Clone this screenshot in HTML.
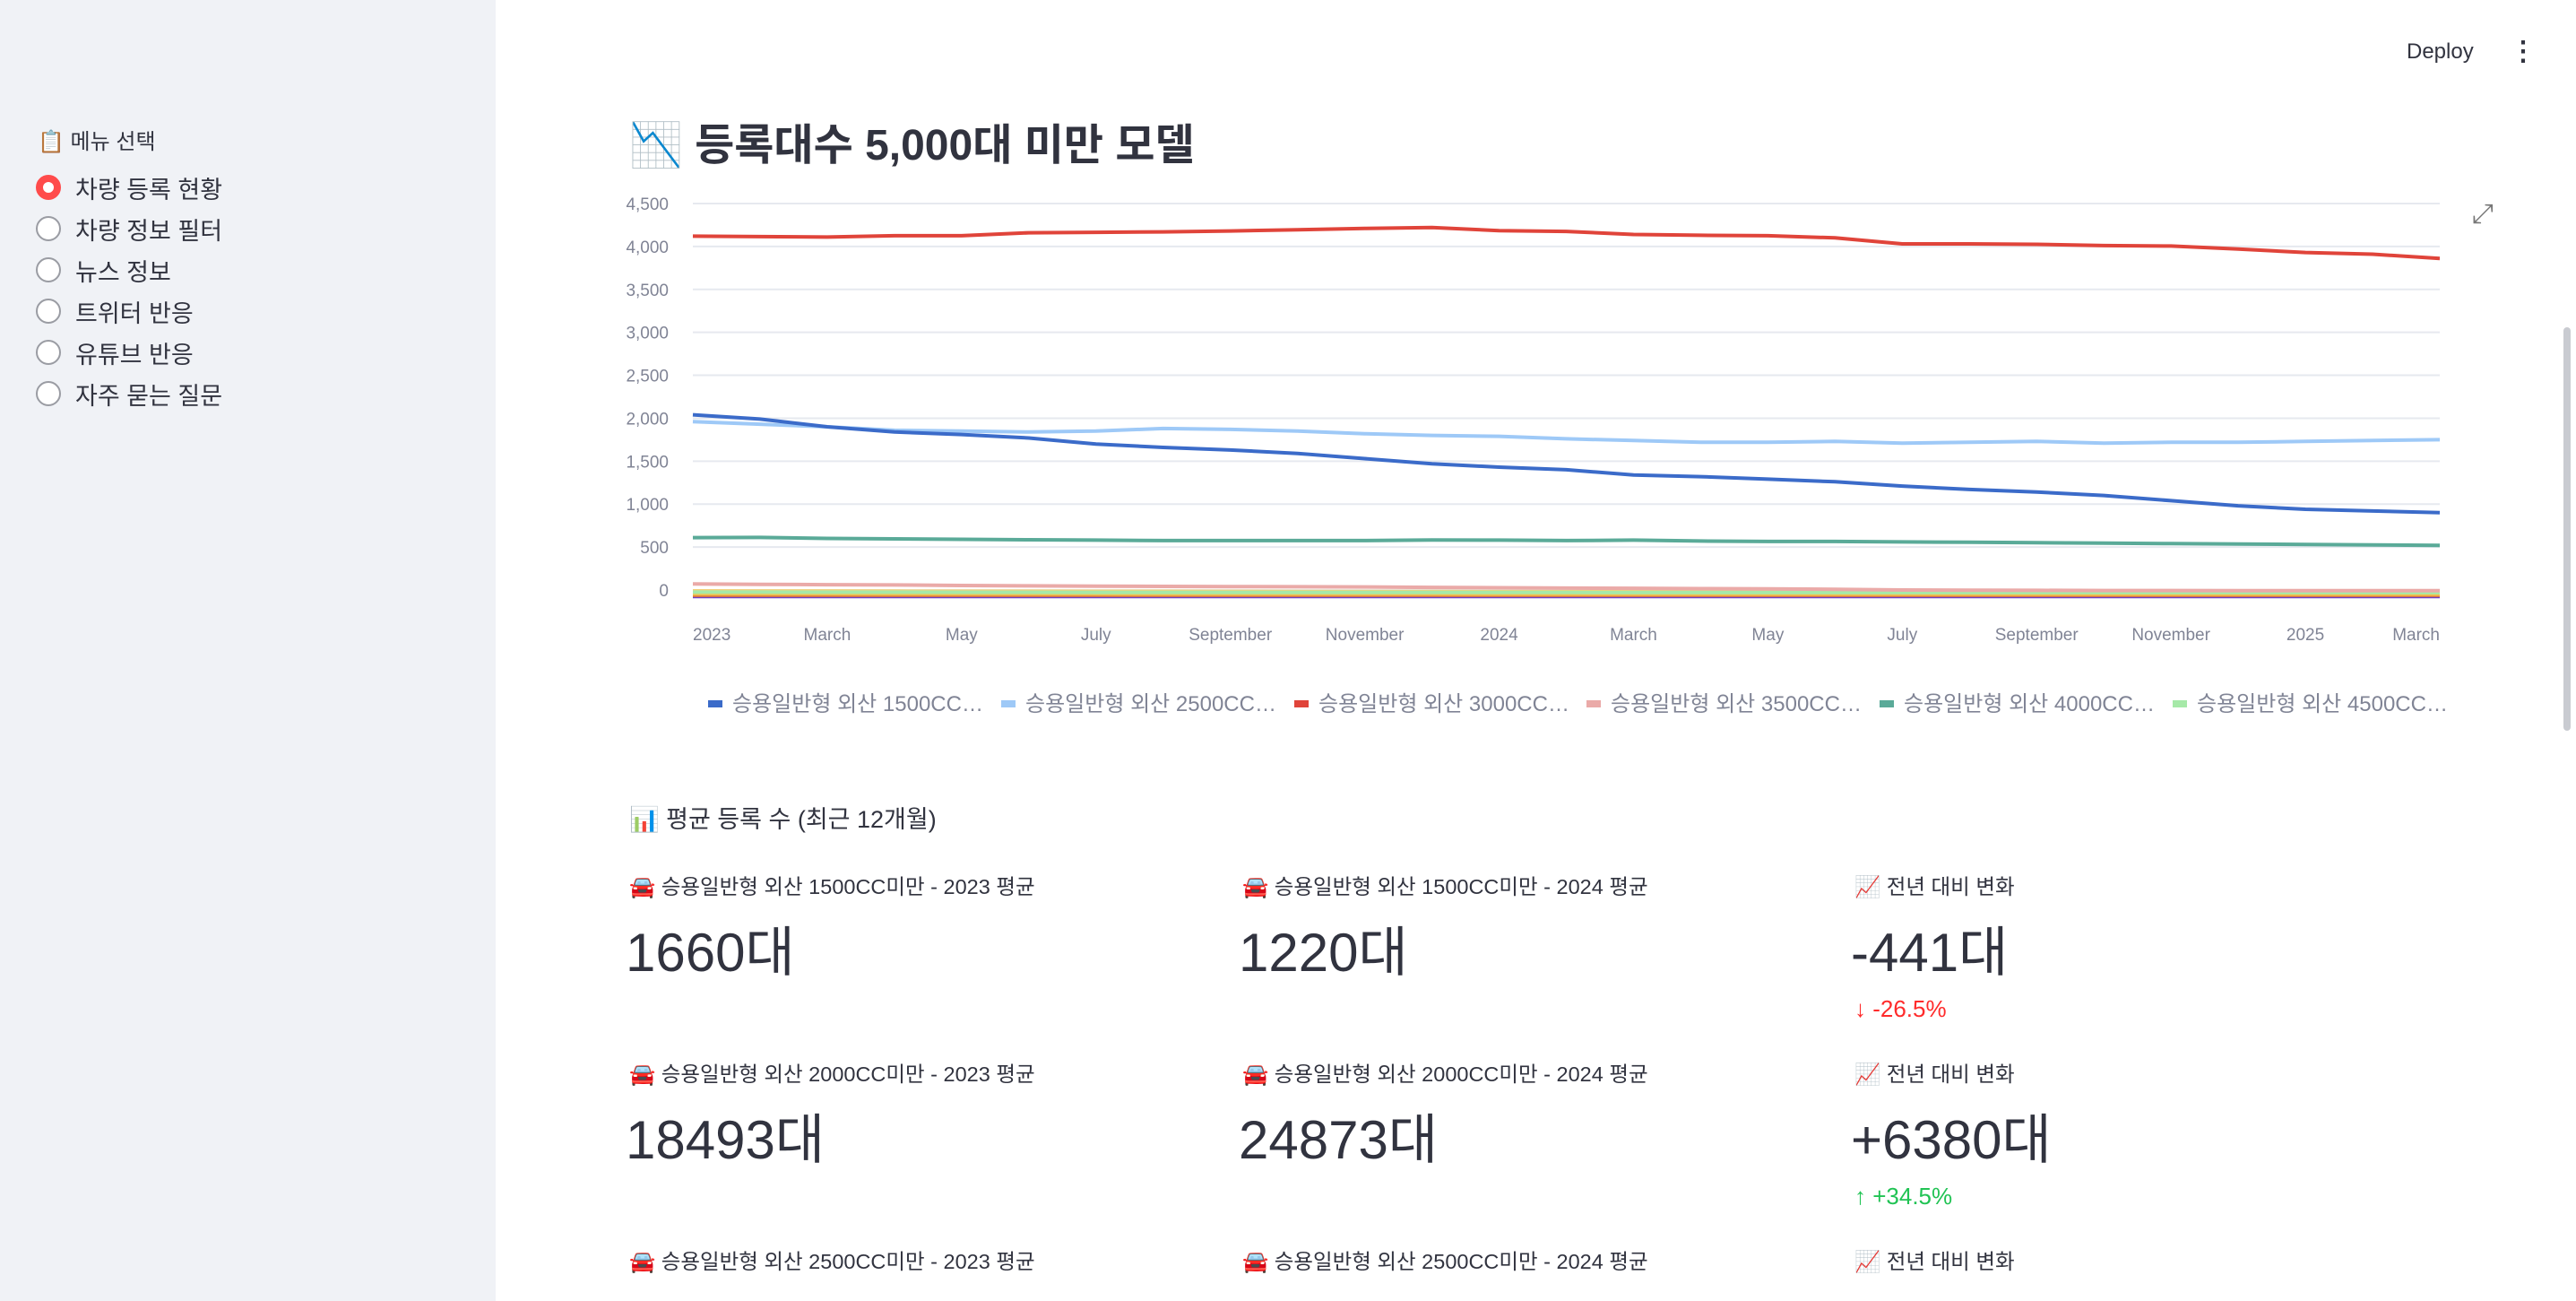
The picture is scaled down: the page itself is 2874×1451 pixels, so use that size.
<!DOCTYPE html>
<html><head><meta charset="utf-8">
<style>
*{margin:0;padding:0;box-sizing:border-box}
html{width:2874px;height:1451px;overflow:hidden}
body{width:2874px;height:1451px;overflow:hidden;background:#fff;font-family:"Liberation Sans","Noto Sans CJK KR",sans-serif;color:#31333f;position:relative}
#sidebar{position:absolute;left:0;top:0;width:553px;height:1451px;background:#f0f2f6}
.abs{position:absolute;white-space:nowrap}
.radio{position:absolute;left:40px;width:28px;height:28px;border-radius:50%;border:2px solid #9a9ca3;background:#fff}
.radio.on{border:8px solid #ff4b4b}
.ri{position:absolute;left:84px;font-size:27px}
.ml{font-size:23.5px}
.mv{font-size:60px;font-weight:400}
.dd{font-size:26px}
</style></head><body>
<div id="sidebar">
  <div class="abs" style="left:42px;top:138px;font-size:24px">📋 메뉴 선택</div>
  <div class="radio on" style="top:195px"></div><div class="ri abs" style="top:190px">차량 등록 현황</div>
  <div class="radio" style="top:241px"></div><div class="ri abs" style="top:236px">차량 정보 필터</div>
  <div class="radio" style="top:287px"></div><div class="ri abs" style="top:282px">뉴스 정보</div>
  <div class="radio" style="top:333px"></div><div class="ri abs" style="top:328px">트위터 반응</div>
  <div class="radio" style="top:379px"></div><div class="ri abs" style="top:374px">유튜브 반응</div>
  <div class="radio" style="top:425px"></div><div class="ri abs" style="top:420px">자주 묻는 질문</div>
</div>
<div class="abs" style="left:2685px;top:44px;font-size:24px">Deploy</div>
<div class="abs" style="left:2800px;top:40px;font-size:30px;font-weight:bold">⋮</div>
<div class="abs" style="right:6px;top:365px;width:8px;height:450px;background:#c9cbd1;border-radius:4px"></div>
<div class="abs" style="left:702px;top:122px;font-size:48px;font-weight:bold">📉 등록대수 5,000대 미만 모델</div>
<div class="abs" style="left:2758px;top:222px;font-size:30px;color:#777">⤢</div>
<svg id="chart" class="abs" style="left:0;top:0" width="2874" height="840"></svg>
<div class="abs" style="left:702px;top:892px;font-size:27px">📊 평균 등록 수 (최근 12개월)</div>

<div class="abs ml" style="left:702px;top:970px">🚘 승용일반형 외산 1500CC미만 - 2023 평균</div>
<div class="abs mv" style="left:698px;top:1014px">1660대</div>
<div class="abs ml" style="left:1386px;top:970px">🚘 승용일반형 외산 1500CC미만 - 2024 평균</div>
<div class="abs mv" style="left:1382px;top:1014px">1220대</div>
<div class="abs ml" style="left:2069px;top:970px">📈 전년 대비 변화</div>
<div class="abs mv" style="left:2065px;top:1014px">-441대</div>
<div class="abs dd" style="left:2069px;top:1110px;color:#ff2b2b">↓ -26.5%</div>

<div class="abs ml" style="left:702px;top:1179px">🚘 승용일반형 외산 2000CC미만 - 2023 평균</div>
<div class="abs mv" style="left:698px;top:1223px">18493대</div>
<div class="abs ml" style="left:1386px;top:1179px">🚘 승용일반형 외산 2000CC미만 - 2024 평균</div>
<div class="abs mv" style="left:1382px;top:1223px">24873대</div>
<div class="abs ml" style="left:2069px;top:1179px">📈 전년 대비 변화</div>
<div class="abs mv" style="left:2065px;top:1223px">+6380대</div>
<div class="abs dd" style="left:2069px;top:1319px;color:#21c354">↑ +34.5%</div>

<div class="abs ml" style="left:702px;top:1388px">🚘 승용일반형 외산 2500CC미만 - 2023 평균</div>
<div class="abs ml" style="left:1386px;top:1388px">🚘 승용일반형 외산 2500CC미만 - 2024 평균</div>
<div class="abs ml" style="left:2069px;top:1388px">📈 전년 대비 변화</div>

<script>
const yTicks=[0,500,1000,1500,2000,2500,3000,3500,4000,4500];
const xTickLabels=["2023","March","May","July","September","November","2024","March","May","July","September","November","2025","March"];
const xTickMonths=[0,2,4,6,8,10,12,14,16,18,20,22,24,26];
const seriesNames=["승용일반형 외산 1500CC…","승용일반형 외산 2500CC…","승용일반형 외산 3000CC…","승용일반형 외산 3500CC…","승용일반형 외산 4000CC…","승용일반형 외산 4500CC…"];
const s1500=[2040,1990,1900,1840,1810,1770,1700,1660,1630,1590,1530,1470,1430,1400,1340,1320,1290,1260,1210,1170,1140,1100,1040,980,940,920,900];
const s2500=[1960,1930,1900,1860,1850,1840,1850,1880,1870,1850,1820,1800,1790,1760,1740,1720,1720,1730,1710,1720,1730,1710,1720,1720,1730,1740,1750];
const s3000=[4120,4115,4110,4125,4125,4160,4165,4170,4180,4195,4210,4220,4185,4175,4140,4130,4125,4100,4030,4030,4025,4010,4005,3970,3930,3910,3860];
const s3500=[70,66,62,58,52,48,45,42,40,38,35,30,26,22,20,16,14,8,0,-2,-4,-6,-6,-8,-8,-8,-8];
const s4000=[610,612,600,595,590,585,580,575,575,575,575,582,580,575,580,570,565,565,560,555,550,545,540,535,530,525,520];
const s4500=[-25,-25,-26,-26,-27,-27,-28,-28,-28,-28,-29,-29,-29,-29,-30,-30,-30,-30,-30,-30,-30,-30,-30,-30,-30,-30,-30];
const sYellow1=[-10,-12,-12,-14,-15,-15,-16,-16,-17,-18,-18,-19,-20,-20,-20,-21,-21,-22,-22,-22,-22,-22,-22,-22,-22,-22,-22];
const sYellow2=[-45,-45,-45,-46,-46,-46,-46,-47,-47,-47,-47,-47,-48,-48,-48,-48,-48,-48,-48,-48,-48,-48,-48,-48,-48,-48,-48];
const sOrange=[-62,-62,-62,-62,-62,-62,-62,-62,-62,-62,-62,-62,-62,-62,-62,-62,-62,-62,-62,-62,-62,-62,-62,-62,-62,-62,-62];
const sPurple=[-75,-75,-75,-75,-75,-75,-75,-75,-75,-75,-75,-75,-75,-75,-75,-75,-75,-75,-75,-75,-75,-75,-75,-75,-75,-75,-75];
const NS="http://www.w3.org/2000/svg";
const svg=document.getElementById('chart');
const X0=773,X1=2722,Y0=658,Y4500=227;
const xS=m=>X0+(X1-X0)*m/26;
const yS=v=>Y0-(Y0-Y4500)*v/4500;
function mk(t,a){const e=document.createElementNS(NS,t);for(const k in a)e.setAttribute(k,a[k]);svg.appendChild(e);return e;}
yTicks.forEach((v,i)=>{
  const g=mk('line',{x1:X0,x2:X1,y1:yS(v),y2:yS(v),stroke:'#e6e9ef','stroke-width':2});
  
  
  const t=mk('text',{x:746,y:yS(v)+7,'text-anchor':'end','font-size':19,fill:'#808495'});
  t.textContent=v.toLocaleString('en-US');
  
  
});
xTickLabels.forEach((l,i)=>{
  const m=xTickMonths[i];
  const anchor=i===0?'start':(i===xTickLabels.length-1?'end':'middle');
  const t=mk('text',{x:xS(m),y:714,'text-anchor':anchor,'font-size':19,fill:'#808495'});
  t.textContent=l;
  
  
});
const lines=[[sPurple,'#6d3fc0'],[sOrange,'#e07b39'],[sYellow2,'#f2c14e'],[sYellow1,'#f4d27a'],[s4500,'#a6e9a8'],[s3500,'#eaaaa8'],[s4000,'#5aaa98'],[s2500,'#9ec9f7'],[s1500,'#3b6bc9'],[s3000,'#e0443a']];
lines.forEach(([d,c])=>{
  const p=mk('path',{d:d.map((v,i)=>(i?'L':'M')+xS(i).toFixed(1)+','+yS(v).toFixed(1)).join(''),fill:'none',stroke:c,'stroke-width':4,'stroke-linejoin':'round'});
  
  
});
const legCols=['#3b6bc9','#9ec9f7','#e0443a','#eaaaa8','#5aaa98','#a6e9a8'];
const legX=[790,1117,1444,1770,2097,2424];
seriesNames.forEach((n,i)=>{
  const r=mk('rect',{x:legX[i],y:781,width:16,height:8,fill:legCols[i]});
  
  
  const t=mk('text',{x:legX[i]+27,y:793,'font-size':24,fill:'#808495'});
  t.textContent=n;
  
  
});
</script>
</body></html>
